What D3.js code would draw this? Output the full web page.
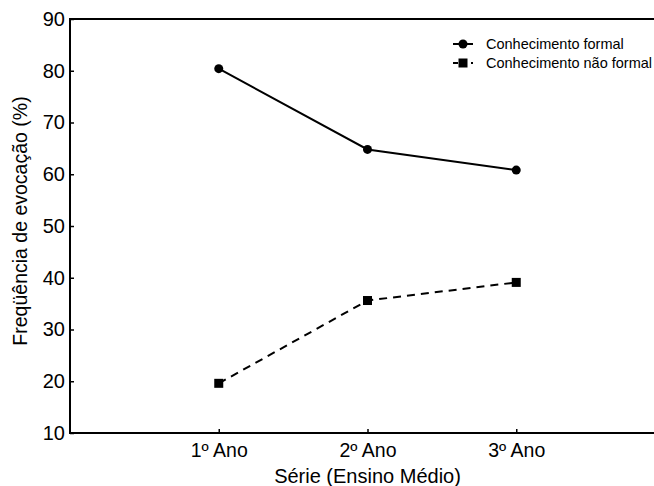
<!DOCTYPE html>
<html><head><meta charset="utf-8">
<script src="https://cdn.jsdelivr.net/npm/d3@7"></script>
<style>body{margin:0;background:#fff;} svg{display:block;font-family:"Liberation Sans",Arial,sans-serif;}</style>
</head><body>
<svg id="c" width="654" height="486"></svg>
<script>
const categories = ["1º Ano", "2º Ano", "3º Ano"];
const formal = [80.4, 64.8, 60.8];
const naoFormal = [19.6, 35.6, 39.1];
const yTicks = [10, 20, 30, 40, 50, 60, 70, 80, 90];
const seriesNames = ["Conhecimento formal", "Conhecimento não formal"];

(function(){
const svg = d3.select("#c");
const mLeft = 70, mTop = 19, mBottom = 433, mRight = 665;
const x = d3.scaleLinear().domain([0, 4]).range([mLeft, mRight]);
const y = d3.scaleLinear().domain([10, 90]).range([mBottom, mTop]);

// frame
svg.append("path").attr("d", `M${mRight},${mTop}H${mLeft}V${mBottom}H${mRight}`)
  .attr("fill","none").attr("stroke","#000").attr("stroke-width",2);

// y axis
const yAx = svg.append("g").attr("transform",`translate(${mLeft},0)`)
  .call(d3.axisLeft(y).tickValues(yTicks).tickSize(-4).tickPadding(5).tickFormat(d3.format("d")));
yAx.select(".domain").remove();
yAx.selectAll(".tick line").attr("stroke-width",1.5);
yAx.selectAll("text").attr("font-size",20).attr("fill","#000").attr("font-family","Liberation Sans, Arial, sans-serif");

// x axis
const xAx = svg.append("g").attr("transform",`translate(0,${mBottom})`)
  .call(d3.axisBottom(x).tickValues([1,2,3]).tickSize(-4).tickPadding(10.5).tickFormat(d => categories[d-1]));
xAx.select(".domain").remove();
xAx.selectAll(".tick line").attr("stroke-width",1.5);
xAx.selectAll("text").attr("font-size",19.5).attr("fill","#000").attr("font-family","Liberation Sans, Arial, sans-serif");

// axis titles
svg.append("text").attr("x", x(2)).attr("y", 483).attr("text-anchor","middle")
  .attr("font-size",20).text("Série (Ensino Médio)");
svg.append("text").attr("transform",`translate(27,221) rotate(-90)`)
  .attr("text-anchor","middle").attr("font-size",19.5).text("Freqüência de evocação (%)");

const line = d3.line().x((d,i)=>x(i+1)).y(d=>y(d));
svg.append("path").datum(formal).attr("d", line).attr("fill","none").attr("stroke","#000").attr("stroke-width",2);
svg.append("path").datum(naoFormal).attr("d", line).attr("fill","none").attr("stroke","#000").attr("stroke-width",2).attr("stroke-dasharray","8,6");

svg.selectAll(".pc").data(formal).enter().append("circle")
  .attr("cx",(d,i)=>x(i+1)).attr("cy",d=>y(d)).attr("r",4.5).attr("fill","#000");
const s = 9;
svg.selectAll(".ps").data(naoFormal).enter().append("rect")
  .attr("x",(d,i)=>x(i+1)-s/2).attr("y",d=>y(d)-s/2).attr("width",s).attr("height",s).attr("fill","#000");

// legend
const lg = svg.append("g");
const ly = [44, 63];
lg.append("line").attr("x1",453).attr("x2",473).attr("y1",ly[0]).attr("y2",ly[0]).attr("stroke","#000").attr("stroke-width",2);
lg.append("circle").attr("cx",463).attr("cy",ly[0]).attr("r",4.5).attr("fill","#000");
lg.append("line").attr("x1",453).attr("x2",473).attr("y1",ly[1]).attr("y2",ly[1]).attr("stroke","#000").attr("stroke-width",2).attr("stroke-dasharray","5,4");
lg.append("rect").attr("x",463-s/2).attr("y",ly[1]-s/2).attr("width",s).attr("height",s).attr("fill","#000");
seriesNames.forEach((n,i)=>{
  lg.append("text").attr("x",486).attr("y",ly[i]).attr("dy","0.35em").attr("font-size",14.5).text(n);
});
})();
</script>
</body></html>
